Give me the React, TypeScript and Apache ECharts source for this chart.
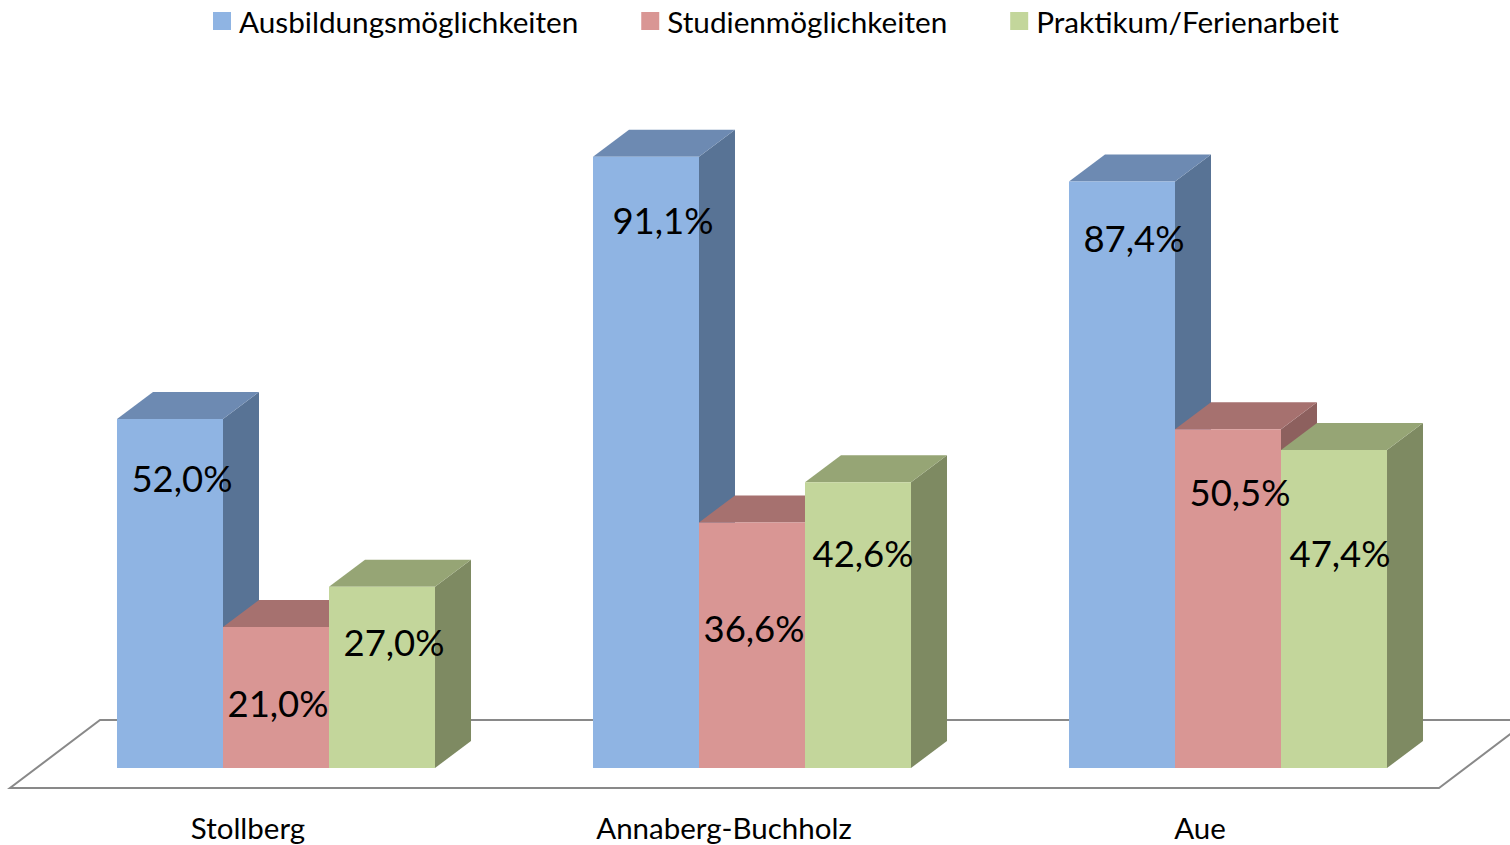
import React, { useEffect, useRef } from "react";
import * as echarts from "echarts";

const categories = ["Stollberg", "Annaberg-Buchholz", "Aue"];
const seriesNames = ["Ausbildungsmöglichkeiten", "Studienmöglichkeiten", "Praktikum/Ferienarbeit"];
const ausbildung = [52.0, 91.1, 87.4];
const studium = [21.0, 36.6, 50.5];
const praktikum = [27.0, 42.6, 47.4];
const seriesValues = [ausbildung, studium, praktikum];

// styles
const FRONT = ["#8FB4E3", "#D99694", "#C3D69B"];
const TOP = ["#6D8AB2", "#A6716F", "#96A575"];
const SIDE = ["#587395", "#8D605E", "#7E8A62"];
const LABEL_DROP = [[59, 63, 56], [76, 106, 63], [55, 71, 103]];
const LABEL_SHIFT = [[12, 17, 12], [2, 2, 12], [12, 5, 6]];
const BAR_FRAC = 0.2227;
const DEPTH_X = 36;
const DEPTH_Y = 27;
const FONT = "Lato, 'Open Sans', sans-serif";

const fmt = (v: number) => v.toFixed(1).replace(".", ",") + "%";

function makeRender(s: number) {
  return (params: any, api: any) => {
    const cat = api.value(0);
    const v = api.value(1);
    const top = api.coord([cat, v]);
    const base = api.coord([cat, 0]);
    const band = api.size([1, 0])[0];
    const bw = band * BAR_FRAC;
    const x0 = top[0] - 1.5 * bw + s * bw;
    const x1 = x0 + bw;
    const yT = top[1];
    const yB = base[1];
    const dx = DEPTH_X;
    const dy = DEPTH_Y;
    return {
      type: "group",
      children: [
        {
          type: "polygon",
          shape: { points: [[x1, yB], [x1 + dx, yB - dy], [x1 + dx, yT - dy], [x1, yT]] },
          style: { fill: SIDE[s] },
        },
        {
          type: "polygon",
          shape: { points: [[x0, yT], [x0 + dx, yT - dy], [x1 + dx, yT - dy], [x1, yT]] },
          style: { fill: TOP[s] },
        },
        {
          type: "rect",
          shape: { x: x0, y: yT, width: bw, height: yB - yT },
          style: { fill: FRONT[s] },
        },
        {
          type: "text",
          z2: 100,
          style: {
            text: fmt(v),
            x: (x0 + x1) / 2 + LABEL_SHIFT[s][cat],
            y: yT + LABEL_DROP[s][cat],
            align: "center",
            verticalAlign: "middle",
            fill: "#000",
            fontSize: 36.5,
            fontFamily: FONT,
          },
        },
      ],
    };
  };
}

export default function App() {
  const ref = useRef<HTMLDivElement>(null);
  useEffect(() => {
    if (!ref.current) return;
    const chart = echarts.init(ref.current, undefined, { renderer: "svg" });
    chart.setOption({
      animation: false,
      backgroundColor: "#ffffff",
      legend: {
        left: 213,
        top: 6,
        padding: 0,
        icon: "rect",
        itemWidth: 18,
        itemHeight: 18,
        itemGap: 63,
        textStyle: { fontSize: 29.7, fontFamily: FONT, color: "#000", lineHeight: 30, padding: [0, 0, 0, 3] },
        data: seriesNames,
      },
      graphic: [
        {
          type: "polygon",
          z: 0,
          shape: { points: [[10, 788], [1439, 788], [1529, 720], [100, 720]] },
          style: { fill: "none", stroke: "#898989", lineWidth: 2 },
        },
      ],
      grid: { left: 38, top: 97, width: 1428, height: 671 },
      xAxis: {
        type: "category",
        data: categories,
        axisLine: { show: false },
        axisTick: { show: false },
        axisLabel: {
          fontSize: 29.5,
          fontFamily: FONT,
          color: "#000",
          margin: 44,
          lineHeight: 30,
          padding: [0, 56, 0, 0],
        },
      },
      yAxis: {
        type: "value",
        min: 0,
        max: 100,
        show: false,
        splitLine: { show: false },
      },
      series: seriesNames.map((name, s) => ({
        name,
        type: "custom",
        renderItem: makeRender(s),
        itemStyle: { color: FRONT[s] },
        data: seriesValues[s].map((v, i) => [i, v]),
        encode: { x: 0, y: 1 },
        z: 2,
      })),
    });
    return () => chart.dispose();
  }, []);
  return <div ref={ref} style={{ position: "fixed", left: 0, top: 0, width: 1510, height: 845 }} />;
}
